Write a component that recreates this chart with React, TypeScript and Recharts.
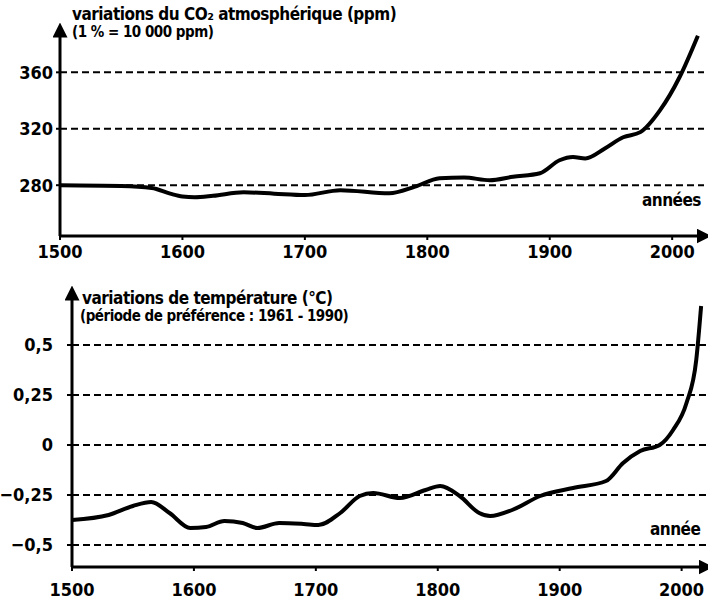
import React from "react";
import { Line, LineChart, ReferenceLine, XAxis, YAxis } from "recharts";

// CO2 (ppm)
const co2Years = [1500, 1550, 1575, 1590, 1600, 1610, 1625, 1650, 1675, 1700, 1729, 1769, 1790, 1810, 1830, 1851, 1870, 1892, 1908, 1919, 1929, 1945, 1960, 1974, 1990, 2006, 2021];
const co2Values = [280, 279.5, 278, 274, 272, 271.5, 272.5, 275, 274, 273, 276.5, 274.3, 279, 285, 285.5, 283.5, 286, 288.5, 297.7, 300, 299, 306, 314, 317.6, 333, 356.5, 386];

// temperature anomaly (°C)
const tempYears = [1500, 1530, 1550, 1565, 1580, 1597, 1610, 1625, 1640, 1652, 1670, 1690, 1702, 1720, 1736, 1747, 1769, 1790, 1802, 1818, 1834, 1843, 1861, 1884, 1911, 1938, 1952, 1966, 1982, 1993, 2004, 2012, 2016];
const tempValues = [-0.375, -0.35, -0.305, -0.285, -0.34, -0.415, -0.41, -0.38, -0.39, -0.415, -0.39, -0.395, -0.4, -0.34, -0.255, -0.24, -0.265, -0.225, -0.205, -0.255, -0.34, -0.355, -0.325, -0.255, -0.215, -0.18, -0.09, -0.03, 0.0, 0.075, 0.21, 0.425, 0.695];

const yearTicks = [1500, 1600, 1700, 1800, 1900, 2000];
const co2Ticks = [280, 320, 360];
const tempTicks = [-0.5, -0.25, 0, 0.25, 0.5];

const co2Data = co2Years.map((year, i) => ({ year, value: co2Values[i] }));
const tempData = tempYears.map((year, i) => ({ year, value: tempValues[i] }));

const FONT = '"DejaVu Sans Condensed", "Liberation Sans Narrow", "DejaVu Sans", sans-serif';
const tickStyle = { fill: "#000", fontSize: 18, fontWeight: 700, fontFamily: FONT };
const axisLine = (id: string, start: boolean) => ({
  stroke: "#000",
  strokeWidth: 3,
  ...(start ? { markerStart: `url(#${id})` } : { markerEnd: `url(#${id})` }),
});

function Arrow({ id }: { id: string }) {
  return (
    <defs>
      <marker id={id} viewBox="0 0 10 10" refX="5" refY="5" markerWidth="5" markerHeight="5" orient="auto-start-reverse">
        <path d="M0,0 L10,5 L0,10 z" fill="#000" />
      </marker>
    </defs>
  );
}

const label = (top: number, left: number, text: string, size = 17): React.ReactElement => (
  <div
    style={{
      position: "absolute",
      top,
      left,
      fontFamily: FONT,
      fontWeight: 700,
      fontSize: size,
      color: "#000",
      whiteSpace: "nowrap",
      letterSpacing: -0.5,
      lineHeight: 1,
    }}
  >
    {text}
  </div>
);

const dashed = { stroke: "#000", strokeWidth: 2, strokeDasharray: "7 4" };

export default function App() {
  return (
    <div style={{ position: "absolute", top: 0, left: 0, width: 708, height: 607, background: "#fff", overflow: "hidden" }}>
      <div style={{ position: "absolute", top: 0, left: 0 }}>
        <LineChart width={708} height={270} data={co2Data} margin={{ top: 30, right: 4, bottom: 0, left: 0 }}>
          <Arrow id="arrTop" />
          {co2Ticks.map((v) => (
            <ReferenceLine key={v} y={v} {...dashed} />
          ))}
          <XAxis
            dataKey="year"
            type="number"
            domain={[1500, 2026]}
            ticks={yearTicks}
            tick={tickStyle}
            tickSize={4}
            tickMargin={5}
            tickLine={{ stroke: "#000", strokeWidth: 2 }}
            axisLine={axisLine("arrTop", false)}
            height={34}
            allowDataOverflow
          />
          <YAxis
            type="number"
            domain={[244, 390]}
            ticks={co2Ticks}
            tick={tickStyle}
            tickSize={4}
            tickMargin={3}
            tickLine={{ stroke: "#000", strokeWidth: 2 }}
            axisLine={axisLine("arrTop", true)}
            width={60}
            allowDataOverflow
          />
          <Line dataKey="value" type="monotone" stroke="#000" strokeWidth={4} dot={false} isAnimationActive={false} />
        </LineChart>
      </div>
      <div style={{ position: "absolute", top: 260, left: 0 }}>
        <LineChart width={708} height={344} data={tempData} margin={{ top: 33, right: 2, bottom: 0, left: 0 }}>
          <Arrow id="arrBot" />
          {tempTicks.map((v) => (
            <ReferenceLine key={v} y={v} {...dashed} />
          ))}
          <XAxis
            dataKey="year"
            type="number"
            domain={[1500, 2020]}
            ticks={yearTicks}
            tick={tickStyle}
            tickSize={4}
            tickMargin={12}
            tickLine={{ stroke: "#000", strokeWidth: 2 }}
            axisLine={axisLine("arrBot", false)}
            height={37}
            allowDataOverflow
          />
          <YAxis
            type="number"
            domain={[-0.61, 0.76]}
            ticks={tempTicks}
            tick={tickStyle}
            tickFormatter={(v: number) => (v < 0 ? "−" : "") + String(Math.abs(v)).replace(".", ",")}
            tickSize={5}
            tickMargin={14}
            tickLine={{ stroke: "#000", strokeWidth: 2 }}
            axisLine={axisLine("arrBot", true)}
            width={72}
            allowDataOverflow
          />
          <Line dataKey="value" type="monotone" stroke="#000" strokeWidth={4} dot={false} isAnimationActive={false} />
        </LineChart>
      </div>
      {label(6, 72, "variations du CO₂ atmosphérique (ppm)")}
      {label(25, 72, "(1 % = 10 000 ppm)", 15)}
      {label(192, 642, "années", 17)}
      {label(290, 82, "variations de température (°C)")}
      {label(309, 80, "(période de préférence : 1961 - 1990)", 15)}
      {label(521, 650, "année", 17)}
    </div>
  );
}
